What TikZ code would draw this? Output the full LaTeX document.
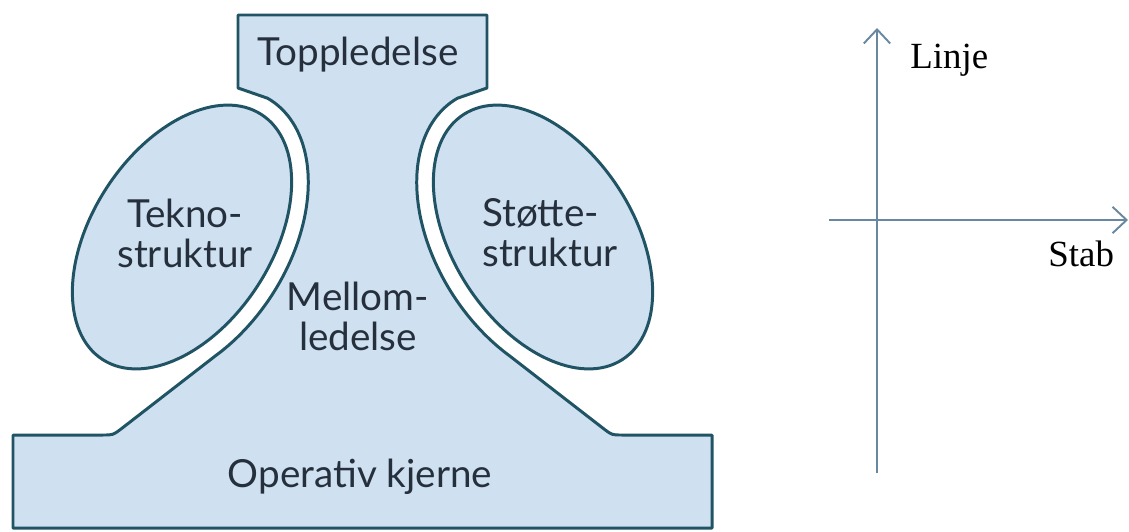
\documentclass[tikz,border=0pt]{standalone}
\usepackage{fontspec}
\setmainfont{Liberation Serif}
\newfontfamily\orgfont{Lato}
\usepackage{xcolor}
\definecolor{orgfill}{RGB}{207,224,241}
\definecolor{orggap}{RGB}{226,247,253}
\definecolor{orgline}{RGB}{32,84,100}
\definecolor{orgtext}{RGB}{38,48,60}
\definecolor{axisblue}{RGB}{104,136,160}
\usetikzlibrary{arrows.meta}
\tikzset{
    partline/.style = {draw=orgline, line width=1.7pt, line join=round},
    partlbl/.style  = {font=\orgfont\fontsize{22}{22.7}\selectfont, text=orgtext,
                       align=center, inner sep=0pt},
    axisline/.style = {draw=axisblue, line width=1.1pt,
                       -{Straight Barb[length=8pt, width=15pt]}},
    axislbl/.style  = {font=\fontsize{21}{24}\selectfont, text=black, inner sep=0pt}
}
% outline of the organisation body (pixel units, y down)
\newcommand{\orgbody}{(13,435) -- (103,435) .. controls (113,435) .. (121,429)
    -- plot[domain=-30:92, samples=60, variable=\t]
       ({182+89.8*cos(\t)+88.8*sin(\t)}, {237+58.3*cos(\t)-136.8*sin(\t)})
    -- (238,88) -- (238,15) -- (487,15) -- (487,88)
    -- plot[domain=-30:92, samples=60, variable=\t]
       ({543-89.8*cos(62-\t)-88.8*sin(62-\t)}, {237+58.3*cos(62-\t)-136.8*sin(62-\t)})
    -- (604,429) .. controls (612,435) .. (622,435)
    -- (712,435) -- (712,528) -- (13,528) -- cycle}

\begin{document}
\begin{tikzpicture}[x=0.02cm, y=-0.02cm]
\useasboundingbox (0,0) rectangle (1129,531);

% --- Body ---
\fill[orgfill] \orgbody;
\begin{scope}
  \clip \orgbody;
  \fill[orggap, rotate around={-33:(182,237)}] (182,237) ellipse [x radius=107, y radius=163];
  \fill[orggap, rotate around={33:(543,237)}]  (543,237) ellipse [x radius=107, y radius=163];
\end{scope}
\draw[partline] \orgbody;

% --- Side structures ---
\draw[partline, fill=orgfill, rotate around={-33:(182,237)}] (182,237) ellipse [x radius=90, y radius=146];
\draw[partline, fill=orgfill, rotate around={33:(543,237)}]  (543,237) ellipse [x radius=90, y radius=146];

% --- Labels ---
\node[partlbl, anchor=base] (topp)  at (358,65)  {Toppledelse};
\node[partlbl]              (tekno) at (185,233) {Tekno-\\struktur};
\node[partlbl, align=left, anchor=west] (stotte) at (482,233) {Støtte-\\struktur};
\node[partlbl]              (mellom) at (358,316) {Mellom-\\ledelse};
\node[partlbl, anchor=base] (kjerne) at (360,487) {Operativ kjerne};

% --- Line / staff axes ---
\coordinate (linjeS) at (877,473);
\coordinate (linjeE) at (877,28);
\coordinate (stabS)  at (829,220);
\coordinate (stabE)  at (1128,220);
\draw[axisline] (linjeS) -- (linjeE);
\draw[axisline] (stabS) -- (stabE);
\node[axislbl, anchor=base west] (linje) at (910,68)  {Linje};
\node[axislbl, anchor=base west] (stab)  at (1048,266) {Stab};

\end{tikzpicture}
\end{document}
